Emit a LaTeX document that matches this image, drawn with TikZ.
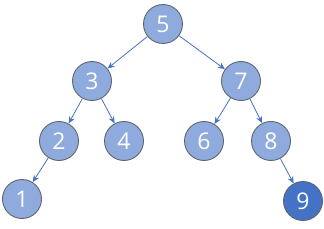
\documentclass[tikz,border=0pt]{standalone}
\usepackage{fontspec}
\setmainfont{Open Sans}
\usetikzlibrary{arrows.meta}
\definecolor{nodefill}{HTML}{8FAADC}
\definecolor{darkfill}{HTML}{4472C4}
\definecolor{edgecol}{HTML}{4472C4}
\definecolor{rimcol}{HTML}{5F6670}
\begin{document}
\begin{tikzpicture}[x=1pt,y=1pt,
  tn/.style={circle,draw=rimcol,line width=0.9pt,fill=nodefill,minimum size=39pt,inner sep=0pt,text=white,font=\fontsize{23}{23}\selectfont},
  dn/.style={tn,fill=darkfill},
  ed/.style={draw=edgecol,line width=0.8pt,-{Stealth[length=7pt,width=6pt]}}]
\useasboundingbox (0,0) rectangle (324,228);
\node[tn] (n5) at (163,204) {5};
\node[tn] (n3) at (92,147) {3};
\node[tn] (n7) at (241,147) {7};
\node[tn] (n2) at (59,87) {2};
\node[tn] (n4) at (124,87) {4};
\node[tn] (n6) at (204,87) {6};
\node[tn] (n8) at (271,87) {8};
\node[tn] (n1) at (22,29) {1};
\node[dn] (n9) at (303,27) {9};
\draw[ed] (n5) -- (n3);
\draw[ed] (n5) -- (n7);
\draw[ed] (n3) -- (n2);
\draw[ed] (n3) -- (n4);
\draw[ed] (n7) -- (n6);
\draw[ed] (n7) -- (n8);
\draw[ed] (n2) -- (n1);
\draw[ed] (n8) -- (n9);
\end{tikzpicture}
\end{document}
